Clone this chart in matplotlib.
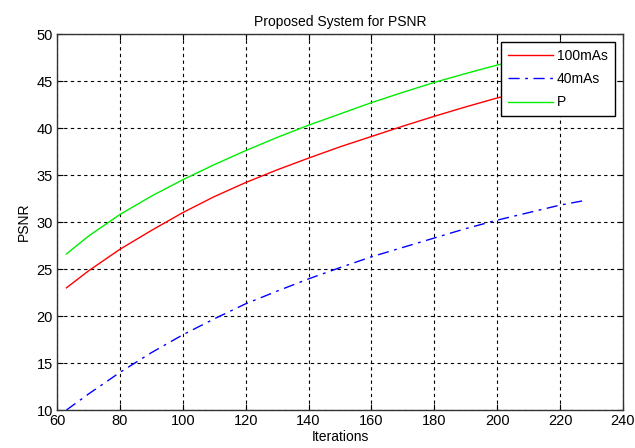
import numpy as np
import matplotlib
matplotlib.use("Agg")
import matplotlib.pyplot as plt

plt.rcParams['font.family'] = ['Liberation Sans', 'DejaVu Sans']

# dados
iter_red = [63, 70, 80, 90, 100, 110, 120, 130, 140, 150, 160, 170, 180, 190, 200, 210, 220, 228]
psnr_100mas = [23.0, 24.8, 27.1, 29.1, 31.0, 32.7, 34.2, 35.55, 36.8, 38.0, 39.1, 40.2, 41.25, 42.25, 43.2, 44.0, 44.8, 45.3]

iter_blue = [63, 70, 80, 90, 100, 110, 120, 130, 140, 150, 160, 170, 180, 190, 200, 210, 220, 228]
psnr_40mas = [10.0, 11.7, 14.0, 16.1, 18.0, 19.7, 21.3, 22.65, 23.95, 25.15, 26.3, 27.3, 28.3, 29.3, 30.2, 31.0, 31.8, 32.3]

iter_green = [63, 70, 80, 90, 100, 110, 120, 130, 140, 150, 160, 170, 180, 190, 200, 210, 220, 228]
psnr_p = [26.6, 28.5, 30.8, 32.75, 34.5, 36.1, 37.6, 39.0, 40.3, 41.5, 42.7, 43.8, 44.85, 45.8, 46.7, 47.5, 48.2, 48.8]

xticks = np.arange(60, 241, 20)
yticks = np.arange(10, 51, 5)

fig = plt.figure(figsize=(6.35, 4.48), dpi=100)
ax = fig.add_axes([0.0898, 0.0848, 0.8912, 0.8392])

ax.plot(iter_red, psnr_100mas, color="#ff0000", lw=1.0, label="100mAs")
ax.plot(iter_blue, psnr_40mas, color="#0000ff", lw=1.0, linestyle=(0, (8, 4, 2, 4)), label="40mAs")
ax.plot(iter_green, psnr_p, color="#00ee00", lw=1.0, label="P")

ax.set_xlim(60, 240)
ax.set_ylim(10, 50)
ax.set_xticks(xticks)
ax.set_yticks(yticks)
ax.tick_params(direction="in", top=True, right=True, labelsize=10.5, length=4, pad=3)
ax.grid(True, color="black", linestyle=(0, (3, 3)), lw=0.8)
for s in ax.spines.values():
    s.set_color("#333333")
    s.set_linewidth(1.0)

ax.set_title("Proposed System for PSNR", fontsize=10, pad=6)
ax.set_xlabel("Iterations", fontsize=10, labelpad=1)
ax.set_ylabel("PSNR", fontsize=10, labelpad=4)

leg = ax.legend(loc="upper right", fontsize=10, frameon=True, fancybox=False,
                edgecolor="black", framealpha=1.0, borderpad=0.5, handlelength=3.2,
                handletextpad=0.3, labelspacing=0.65, borderaxespad=0.6)
leg.get_frame().set_linewidth(1.0)

fig.savefig("out.png", dpi=100)
